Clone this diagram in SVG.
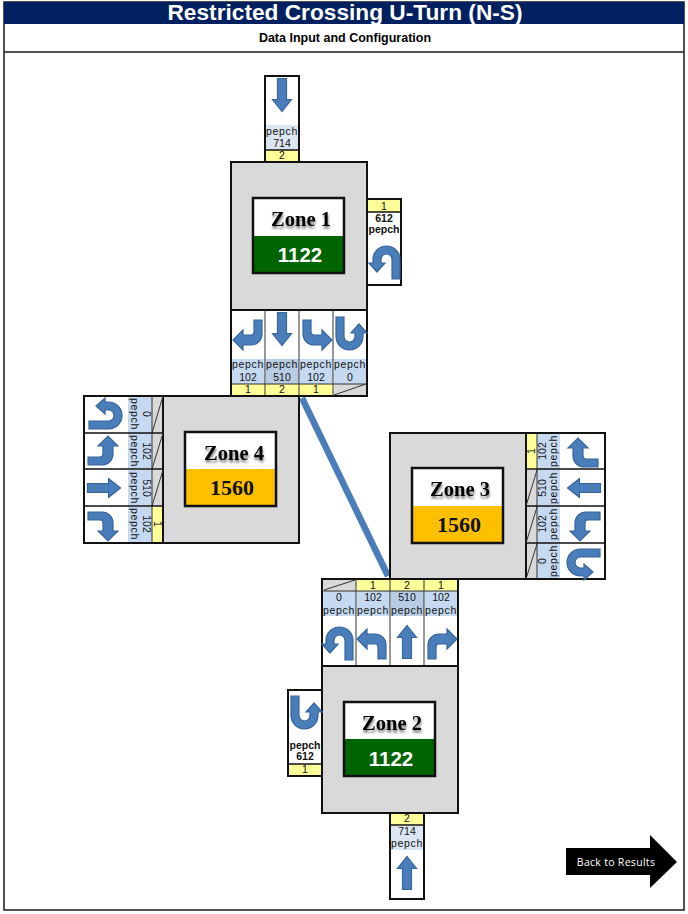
<svg xmlns="http://www.w3.org/2000/svg" width="688" height="914" viewBox="0 0 688 914">
<style>
.frame{fill:none;stroke:#1a1a1a;stroke-width:1.5}
.box{fill:#fff;stroke:#111;stroke-width:2}
.grey{fill:#d9d9d9;stroke:#111;stroke-width:2}
.inner{fill:none;stroke:#111;stroke-width:2.5}
.blue{fill:#c5d9f1}
.blue2{fill:#b8cce4}
.blue3{fill:#dce6f1}
.yel{fill:#ffff99}
.cellg{fill:#d9d9d9}
.sep{stroke:#333;stroke-width:1;fill:none}
.sep2{stroke:#111;stroke-width:1.6;fill:none}
.arr{fill:#4a7ebb;stroke:#38659a;stroke-width:1.2}
text{font-family:"Liberation Sans",Arial,sans-serif;fill:#111;text-anchor:middle}
.t{font-size:10.5px}
.p{font-size:10.5px;letter-spacing:.7px}
.b{font-size:10.5px;font-weight:bold}
.zone{font-family:"Liberation Serif","Times New Roman",serif;font-size:20.5px;font-weight:bold;fill:#000;filter:url(#sh)}
.num1{font-size:20.5px;font-weight:bold;fill:#fff}
.num2{font-family:"Liberation Serif","Times New Roman",serif;font-size:22px;font-weight:bold;fill:#111}
</style>
<defs>
<filter id="sh" x="-20%" y="-30%" width="140%" height="190%"><feDropShadow dx="0.5" dy="2.5" stdDeviation="1.2" flood-color="#000" flood-opacity=".55"/></filter>
<path id="st" class="arr" d="M-4.500,16.500V-4.500H-9.500L0,-16.500L9.500,-4.500H4.500V16.500Z"/>
<path id="rt" class="arr" d="M-13,15V1A11,11 0 0 1 -2,-10H6V-15L16,-5L6,5V0H-2A3,3 0 0 0 -5,3V15Z"/>
<path id="lt" class="arr" d="M13,15V1A11,11 0 0 0 2,-10H-6V-15L-16,-5L-6,5V0H2A3,3 0 0 1 5,3V15Z"/>
<path id="ut" class="arr" d="M14,16V-3.500A13.500,13.500 0 0 0 -13,-3.500V0H-17L-9,9L-1,0H-5V-3.500A5.500,5.500 0 0 1 6,-3.500V16Z"/>
</defs>
<rect width="688" height="914" fill="#fff"/>
<g id="header">
<rect class="frame" x="4" y="2" width="680" height="908"/>
<rect x="4" y="2" width="680" height="22" fill="#002060"/>
<line class="frame" x1="4" y1="52" x2="684" y2="52"/>
<text x="345" y="20" style="font-size:22.700px;font-weight:bold;fill:#fff">Restricted Crossing U-Turn (N-S)</text>
<text x="345" y="42" style="font-size:12.500px;font-weight:bold;fill:#000">Data Input and Configuration</text>
</g>
<g id="connectors">
<line x1="302" y1="398" x2="388" y2="576" stroke="#4a7ebb" stroke-width="6.500"/>
</g>
<g id="approach-north">
<rect class="box" x="265" y="76" width="34" height="86"/>
<rect class="blue3" x="266" y="125" width="32" height="25"/>
<rect class="yel" x="266" y="150" width="32" height="11"/>
<line class="sep2" x1="265" y1="150" x2="299" y2="150"/>
<use href="#st" transform="translate(282,95) rotate(180)"/>
<text class="p" x="282" y="135">pepch</text><text class="t" x="282" y="147">714</text><text class="t" x="282" y="159">2</text>
</g>
<g id="zone-1">
<rect class="grey" x="231" y="162" width="136" height="148"/>
<rect x="254" y="199" width="90" height="37" fill="#fff"/><rect x="254" y="236" width="90" height="37" fill="#006400"/>
<rect class="inner" x="253" y="198" width="91" height="75"/>
<text class="zone" x="301" y="226">Zone 1</text>
<text class="num1" x="300" y="262">1122</text>
</g>
<g id="approach-1-uturn">
<rect class="box" x="367" y="199" width="34" height="86"/>
<rect class="yel" x="368" y="200" width="32" height="12"/>
<line class="sep2" x1="367" y1="212" x2="401" y2="212"/>
<use href="#ut" transform="translate(386,263)"/>
<text class="t" x="384" y="210">1</text><text class="b" x="384" y="222">612</text><text class="b" x="384" y="233">pepch</text>
</g>
<g id="strip-1">
<rect class="box" x="231" y="310" width="136" height="86"/>
<rect class="blue" x="232" y="359" width="33" height="25"/><rect class="blue2" x="266" y="359" width="33" height="25"/><rect class="blue" x="300" y="359" width="33" height="25"/><rect class="blue" x="334" y="359" width="32" height="25"/>
<rect class="yel" x="232" y="384" width="101" height="11"/><rect class="cellg" x="334" y="384" width="32" height="11"/>
<path class="sep" d="M265,310V396M299,310V396M333,310V396M231,384H367M334,395L366,384"/>
<use href="#rt" transform="translate(249,335) rotate(180)"/>
<use href="#st" transform="translate(282,329) rotate(180)"/>
<use href="#lt" transform="translate(316,335) rotate(180)"/>
<use href="#ut" transform="translate(350,333) rotate(180)"/>
<text class="p" x="248" y="368">pepch</text><text class="p" x="282" y="368">pepch</text><text class="p" x="316" y="368">pepch</text><text class="p" x="350" y="368">pepch</text>
<text class="t" x="248" y="381">102</text><text class="t" x="282" y="381">510</text><text class="t" x="316" y="381">102</text><text class="t" x="350" y="381">0</text>
<text class="t" x="248" y="393">1</text><text class="t" x="282" y="393">2</text><text class="t" x="316" y="393">1</text>
</g>
<g id="zone-4">
<rect class="grey" x="163" y="396" width="136" height="147"/>
<rect x="186" y="433" width="90" height="36" fill="#fff"/><rect x="186" y="469" width="90" height="37" fill="#ffc000"/>
<rect class="inner" x="185" y="432" width="91" height="74"/>
<text class="zone" x="234" y="460">Zone 4</text>
<text class="num2" x="232" y="495">1560</text>
</g>
<g id="strip-4">
<rect class="box" x="84" y="396" width="79" height="147"/>
<rect class="blue" x="128" y="397" width="24" height="36"/><rect class="blue" x="128" y="433" width="24" height="36"/><rect class="blue" x="128" y="470" width="24" height="36"/><rect class="blue" x="128" y="507" width="24" height="35"/>
<rect class="cellg" x="152" y="397" width="10" height="109"/><rect class="yel" x="152" y="507" width="10" height="35"/>
<path class="sep" d="M152,396V543M152,433L163,396M152,469L163,433M152,506L163,470"/>
<path class="sep2" d="M84,433H163M84,469H163M84,506H163"/>
<use href="#ut" transform="translate(105,415) rotate(90)"/>
<use href="#lt" transform="translate(103,452) rotate(90)"/>
<use href="#st" transform="translate(104,488) rotate(90)"/>
<use href="#rt" transform="translate(103,525) rotate(90)"/>
<g class="rot">
<text class="t" transform="translate(143,414) rotate(90)">0</text><text class="p" transform="translate(131,414) rotate(90)">pepch</text>
<text class="t" transform="translate(143,451) rotate(90)">102</text><text class="p" transform="translate(131,451) rotate(90)">pepch</text>
<text class="t" transform="translate(143,488) rotate(90)">510</text><text class="p" transform="translate(131,488) rotate(90)">pepch</text>
<text class="t" transform="translate(143,524) rotate(90)">102</text><text class="p" transform="translate(131,524) rotate(90)">pepch</text>
<text class="t" transform="translate(154,524) rotate(90)">1</text>
</g>
</g>
<g id="zone-3">
<rect class="grey" x="390" y="433" width="136" height="146"/>
<rect x="413" y="469" width="90" height="37" fill="#fff"/><rect x="413" y="506" width="90" height="37" fill="#ffc000"/>
<rect class="inner" x="412" y="468" width="91" height="75"/>
<text class="zone" x="460" y="496">Zone 3</text>
<text class="num2" x="459" y="532">1560</text>
</g>
<g id="strip-3">
<rect class="box" x="526" y="433" width="79" height="146"/>
<rect class="blue" x="537" y="434" width="23" height="144"/>
<rect class="yel" x="527" y="434" width="10" height="35"/><rect class="cellg" x="527" y="470" width="10" height="108"/>
<path class="sep" d="M537,433V579M526,506L537,470M526,543L537,507M526,579L537,544"/>
<path class="sep2" d="M526,469H605M526,506H605M526,543H605"/>
<use href="#rt" transform="translate(583,454) rotate(-90)"/>
<use href="#st" transform="translate(584,488) rotate(-90)"/>
<use href="#lt" transform="translate(585,525) rotate(-90)"/>
<use href="#ut" transform="translate(584,563) rotate(-90)"/>
<text class="t" transform="translate(535,451) rotate(-90)">1</text>
<text class="t" transform="translate(546,451) rotate(-90)">102</text><text class="p" transform="translate(557,451) rotate(-90)">pepch</text>
<text class="t" transform="translate(546,488) rotate(-90)">510</text><text class="p" transform="translate(557,488) rotate(-90)">pepch</text>
<text class="t" transform="translate(546,524) rotate(-90)">102</text><text class="p" transform="translate(557,524) rotate(-90)">pepch</text>
<text class="t" transform="translate(546,561) rotate(-90)">0</text><text class="p" transform="translate(557,561) rotate(-90)">pepch</text>
</g>
<g id="strip-2">
<rect class="box" x="322" y="579" width="136" height="87"/>
<rect class="cellg" x="323" y="580" width="33" height="11"/><rect class="yel" x="357" y="580" width="100" height="11"/>
<rect class="blue" x="323" y="591" width="33" height="25"/><rect class="blue" x="357" y="591" width="33" height="25"/><rect class="blue2" x="391" y="591" width="33" height="25"/><rect class="blue" x="425" y="591" width="32" height="25"/>
<path class="sep" d="M356,579V666M390,579V666M424,579V666M322,591H458M324,590L355,580"/>
<use href="#ut" transform="translate(339,644)"/>
<use href="#lt" transform="translate(373,644)"/>
<use href="#st" transform="translate(407,642)"/>
<use href="#rt" transform="translate(441,644)"/>
<text class="t" x="373" y="589">1</text><text class="t" x="407" y="589">2</text><text class="t" x="441" y="589">1</text>
<text class="t" x="339" y="601">0</text><text class="t" x="373" y="601">102</text><text class="t" x="407" y="601">510</text><text class="t" x="441" y="601">102</text>
<text class="p" x="339" y="614">pepch</text><text class="p" x="373" y="614">pepch</text><text class="p" x="407" y="614">pepch</text><text class="p" x="441" y="614">pepch</text>
</g>
<g id="zone-2">
<rect class="grey" x="322" y="666" width="136" height="147"/>
<rect x="345" y="703" width="90" height="36" fill="#fff"/><rect x="345" y="739" width="90" height="37" fill="#006400"/>
<rect class="inner" x="344" y="702" width="91" height="74"/>
<text class="zone" x="392" y="730">Zone 2</text>
<text class="num1" x="391" y="766">1122</text>
</g>
<g id="approach-2-uturn">
<rect class="box" x="288" y="690" width="34" height="86"/>
<rect class="yel" x="289" y="764" width="32" height="11"/>
<line class="sep2" x1="288" y1="764" x2="322" y2="764"/>
<use href="#ut" transform="translate(305,712) rotate(180)"/>
<text class="b" x="305" y="749">pepch</text><text class="b" x="305" y="760">612</text><text class="t" x="305" y="773">1</text>
</g>
<g id="approach-south">
<rect class="box" x="390" y="813" width="34" height="86"/>
<rect class="yel" x="391" y="814" width="32" height="11"/>
<rect class="blue3" x="391" y="826" width="32" height="24"/>
<line class="sep2" x1="390" y1="825" x2="424" y2="825"/>
<use href="#st" transform="translate(407,873)"/>
<text class="t" x="407" y="822">2</text><text class="t" x="407" y="835">714</text><text class="p" x="407" y="847">pepch</text>
</g>
<g id="back-to-results">
<path d="M566,848H650V835L677,862L650,888V875H566Z" fill="#000"/>
<text x="616" y="866" style="font-family:'Open Sans','Liberation Sans',sans-serif;font-size:10.500px;fill:#fff;letter-spacing:.3px">Back to Results</text>
</g>
</svg>
